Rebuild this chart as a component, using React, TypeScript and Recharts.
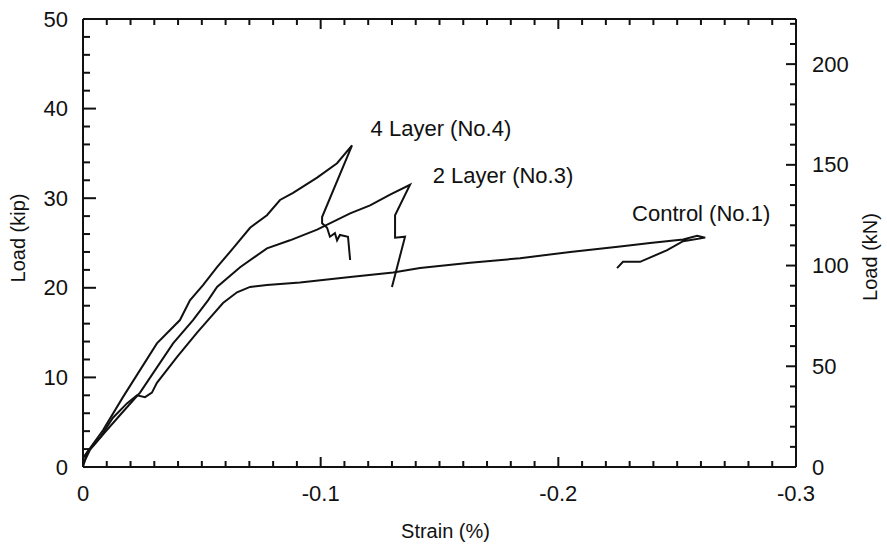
import { LineChart, Line, XAxis, YAxis, ReferenceDot, ReferenceLine } from "recharts";

const KIP_TO_KN = 4.448;
const FONT = "'Liberation Sans', Arial, Helvetica, sans-serif";
const INK = "#111";

// 4 Layer (No.4)
const layer4Strain = [
  0, -0.003, -0.0084, -0.0168, -0.0311, -0.0408, -0.045, -0.0505, -0.0564,
  -0.0631, -0.0703, -0.0774, -0.0829, -0.0884, -0.0985, -0.1069, -0.1132,
  -0.1006, -0.1006, -0.1027, -0.1039, -0.106, -0.1069, -0.1081, -0.1115,
  -0.1124,
];
const layer4Load = [
  1.0, 2.1, 4.1, 7.8, 13.8, 16.4, 18.6, 20.3, 22.3, 24.4, 26.7, 28.1, 29.8,
  30.6, 32.3, 33.9, 35.9, 27.9, 27.2, 26.7, 25.7, 26.1, 25.3, 25.9, 25.7, 23.1,
];

// 2 Layer (No.3)
const layer2Strain = [
  0, -0.0029, -0.0093, -0.0156, -0.024, -0.0379, -0.0463, -0.0526, -0.0564,
  -0.0661, -0.0774, -0.0871, -0.0985, -0.1124, -0.1208, -0.1292, -0.1376,
  -0.1313, -0.1313, -0.1355, -0.13,
];
const layer2Load = [
  0.3, 1.9, 3.9, 5.8, 8.3, 13.8, 16.4, 18.6, 20.1, 22.3, 24.4, 25.3, 26.5,
  28.3, 29.2, 30.4, 31.5, 28.1, 25.6, 25.7, 20.1,
];

// Control (No.1)
const controlStrain = [
  0, -0.0017, -0.0072, -0.0126, -0.0185, -0.0227, -0.0261, -0.029, -0.0311,
  -0.0396, -0.048, -0.0526, -0.0589, -0.0648, -0.0703, -0.0774, -0.0913,
  -0.1124, -0.1305, -0.1418, -0.1629, -0.1839, -0.205, -0.226, -0.2386,
  -0.2525, -0.2584, -0.2618, -0.2525, -0.2458, -0.2344, -0.2272, -0.2247,
];
const controlLoad = [
  0, 1.6, 3.3, 5.5, 7.1, 8.0, 7.8, 8.3, 9.4, 12.3, 15.0, 16.4, 18.3, 19.5,
  20.1, 20.3, 20.6, 21.2, 21.7, 22.2, 22.8, 23.3, 24.0, 24.6, 25.0, 25.4, 25.8,
  25.6, 25.2, 24.2, 22.9, 22.9, 22.2,
];

const X_MIN = -0.3;
const KIP_MAX = 50;
const KN_MAX = KIP_MAX * KIP_TO_KN;

const xMajorTicks = [0, -0.1, -0.2, -0.3];
const kipMajorTicks = [0, 10, 20, 30, 40, 50];
const knMajorTicks = [0, 50, 100, 150, 200];

const xTicks = Array.from({ length: 31 }, (_, i) => -i / 100);
const kipTicks = Array.from({ length: 26 }, (_, i) => i * 2);
const knTicks = Array.from({ length: 23 }, (_, i) => i * 10);

const curveLabels = [
  { text: "4 Layer (No.4)", strain: -0.1506, load: 37.8 },
  { text: "2 Layer (No.3)", strain: -0.1767, load: 32.6 },
  { text: "Control (No.1)", strain: -0.2601, load: 28.3 },
];

// data units per screen pixel (plot is 713 x 448 px)
const PX_X = 0.3 / 713;
const PX_KIP = KIP_MAX / 448;

const zip = (xs: number[], ys: number[]) =>
  xs.map((strain, i) => ({ strain, load: ys[i] }));

const series = [
  zip(layer4Strain, layer4Load),
  zip(layer2Strain, layer2Load),
  zip(controlStrain, controlLoad),
];

const isMajor = (v: number, majors: number[]) =>
  majors.some((m) => Math.abs(m - v) < 1e-9);

const textStyle = { fontFamily: FONT, fontSize: 22, fill: INK };
const titleStyle = { fontFamily: FONT, fontSize: 20, fill: INK };

function BottomTick(p: any) {
  const v = p.payload.value;
  if (!isMajor(v, xMajorTicks)) return <g />;
  return (
    <text x={p.x} y={p.y + 26} textAnchor="middle" dominantBaseline="central" {...textStyle}>
      {String(v)}
    </text>
  );
}

function LeftTick(p: any) {
  const v = p.payload.value;
  if (!isMajor(v, kipMajorTicks)) return <g />;
  return (
    <text x={p.x - 15} y={p.y} textAnchor="end" dominantBaseline="central" {...textStyle}>
      {String(v)}
    </text>
  );
}

function RightTick(p: any) {
  const v = p.payload.value;
  if (!isMajor(v, knMajorTicks)) return <g />;
  return (
    <text x={p.x + 16} y={p.y} textAnchor="start" dominantBaseline="central" {...textStyle}>
      {String(v)}
    </text>
  );
}

const axisLine = { stroke: INK, strokeWidth: 2 };
const tickStroke = {
  stroke: INK,
  strokeWidth: 2,
  ifOverflow: "visible" as const,
};

export default function App() {
  return (
    <div style={{ position: "absolute", left: 0, top: 0, background: "#fff" }}>
      <LineChart width={887} height={546} margin={{ top: 19, right: 0, bottom: 0, left: 0 }}>
        <XAxis
          xAxisId="b"
          type="number"
          dataKey="strain"
          domain={[X_MIN, 0]}
          reversed
          allowDataOverflow
          ticks={xTicks}
          interval={0}
          tickLine={false}
          tickSize={0}
          tickMargin={0}
          tick={(p: any) => <BottomTick {...p} />}
          axisLine={axisLine}
          height={79}
          label={{
            content: ({ viewBox }: any) => (
              <text
                x={viewBox.x + viewBox.width / 2 + 6}
                y={viewBox.y + 64}
                textAnchor="middle"
                dominantBaseline="central"
                {...titleStyle}
              >
                Strain (%)
              </text>
            ),
          }}
        />
        <YAxis
          yAxisId="kip"
          type="number"
          domain={[0, KIP_MAX]}
          allowDataOverflow
          ticks={kipTicks}
          interval={0}
          tickLine={false}
          tickSize={0}
          tickMargin={0}
          tick={(p: any) => <LeftTick {...p} />}
          axisLine={axisLine}
          width={83}
          label={{
            content: ({ viewBox }: any) => (
              <text
                transform={`translate(18, ${viewBox.y + viewBox.height / 2 - 5}) rotate(-90)`}
                textAnchor="middle"
                dominantBaseline="central"
                {...titleStyle}
              >
                Load (kip)
              </text>
            ),
          }}
        />
        <YAxis
          yAxisId="kn"
          orientation="right"
          type="number"
          domain={[0, KN_MAX]}
          allowDataOverflow
          ticks={knTicks}
          interval={0}
          tickLine={false}
          tickSize={0}
          tickMargin={0}
          tick={(p: any) => <RightTick {...p} />}
          axisLine={axisLine}
          width={91}
          label={{
            content: ({ viewBox }: any) => (
              <text
                transform={`translate(${viewBox.x + 74}, ${viewBox.y + viewBox.height / 2 + 14}) rotate(-90)`}
                textAnchor="middle"
                dominantBaseline="central"
                {...titleStyle}
              >
                Load (kN)
              </text>
            ),
          }}
        />

        {/* top frame */}
        <ReferenceLine xAxisId="b" yAxisId="kip" y={KIP_MAX} stroke={INK} strokeWidth={2} ifOverflow="visible" />

        {/* inward tick marks: bottom and top */}
        {xTicks.map((v) => {
          const len = (isMajor(v, xMajorTicks) ? 10 : 6) * PX_KIP;
          return [
            <ReferenceLine
              key={`b${v}`}
              xAxisId="b"
              yAxisId="kip"
              segment={[{ x: v, y: 0 }, { x: v, y: len }]}
              {...tickStroke}
            />,
            <ReferenceLine
              key={`t${v}`}
              xAxisId="b"
              yAxisId="kip"
              segment={[{ x: v, y: KIP_MAX }, { x: v, y: KIP_MAX - len }]}
              {...tickStroke}
            />,
          ];
        })}
        {/* left ticks */}
        {kipTicks.map((v) => {
          const len = (isMajor(v, kipMajorTicks) ? 13 : 7) * PX_X;
          return (
            <ReferenceLine
              key={`l${v}`}
              xAxisId="b"
              yAxisId="kip"
              segment={[{ x: 0, y: v }, { x: -len, y: v }]}
              {...tickStroke}
            />
          );
        })}
        {/* right ticks */}
        {knTicks.map((v) => {
          const len = (isMajor(v, knMajorTicks) ? 10 : 6) * PX_X;
          return (
            <ReferenceLine
              key={`r${v}`}
              xAxisId="b"
              yAxisId="kn"
              segment={[{ x: X_MIN, y: v }, { x: X_MIN + len, y: v }]}
              {...tickStroke}
            />
          );
        })}

        {series.map((data, i) => (
          <Line
            key={i}
            xAxisId="b"
            yAxisId="kip"
            data={data}
            dataKey="load"
            type="linear"
            stroke={INK}
            strokeWidth={2}
            dot={false}
            activeDot={false}
            isAnimationActive={false}
          />
        ))}
        {curveLabels.map((l) => (
          <ReferenceDot
            key={l.text}
            xAxisId="b"
            yAxisId="kip"
            x={l.strain}
            y={l.load}
            r={0}
            fill="none"
            stroke="none"
            label={{ value: l.text, position: "center", ...textStyle }}
          />
        ))}
      </LineChart>
    </div>
  );
}
